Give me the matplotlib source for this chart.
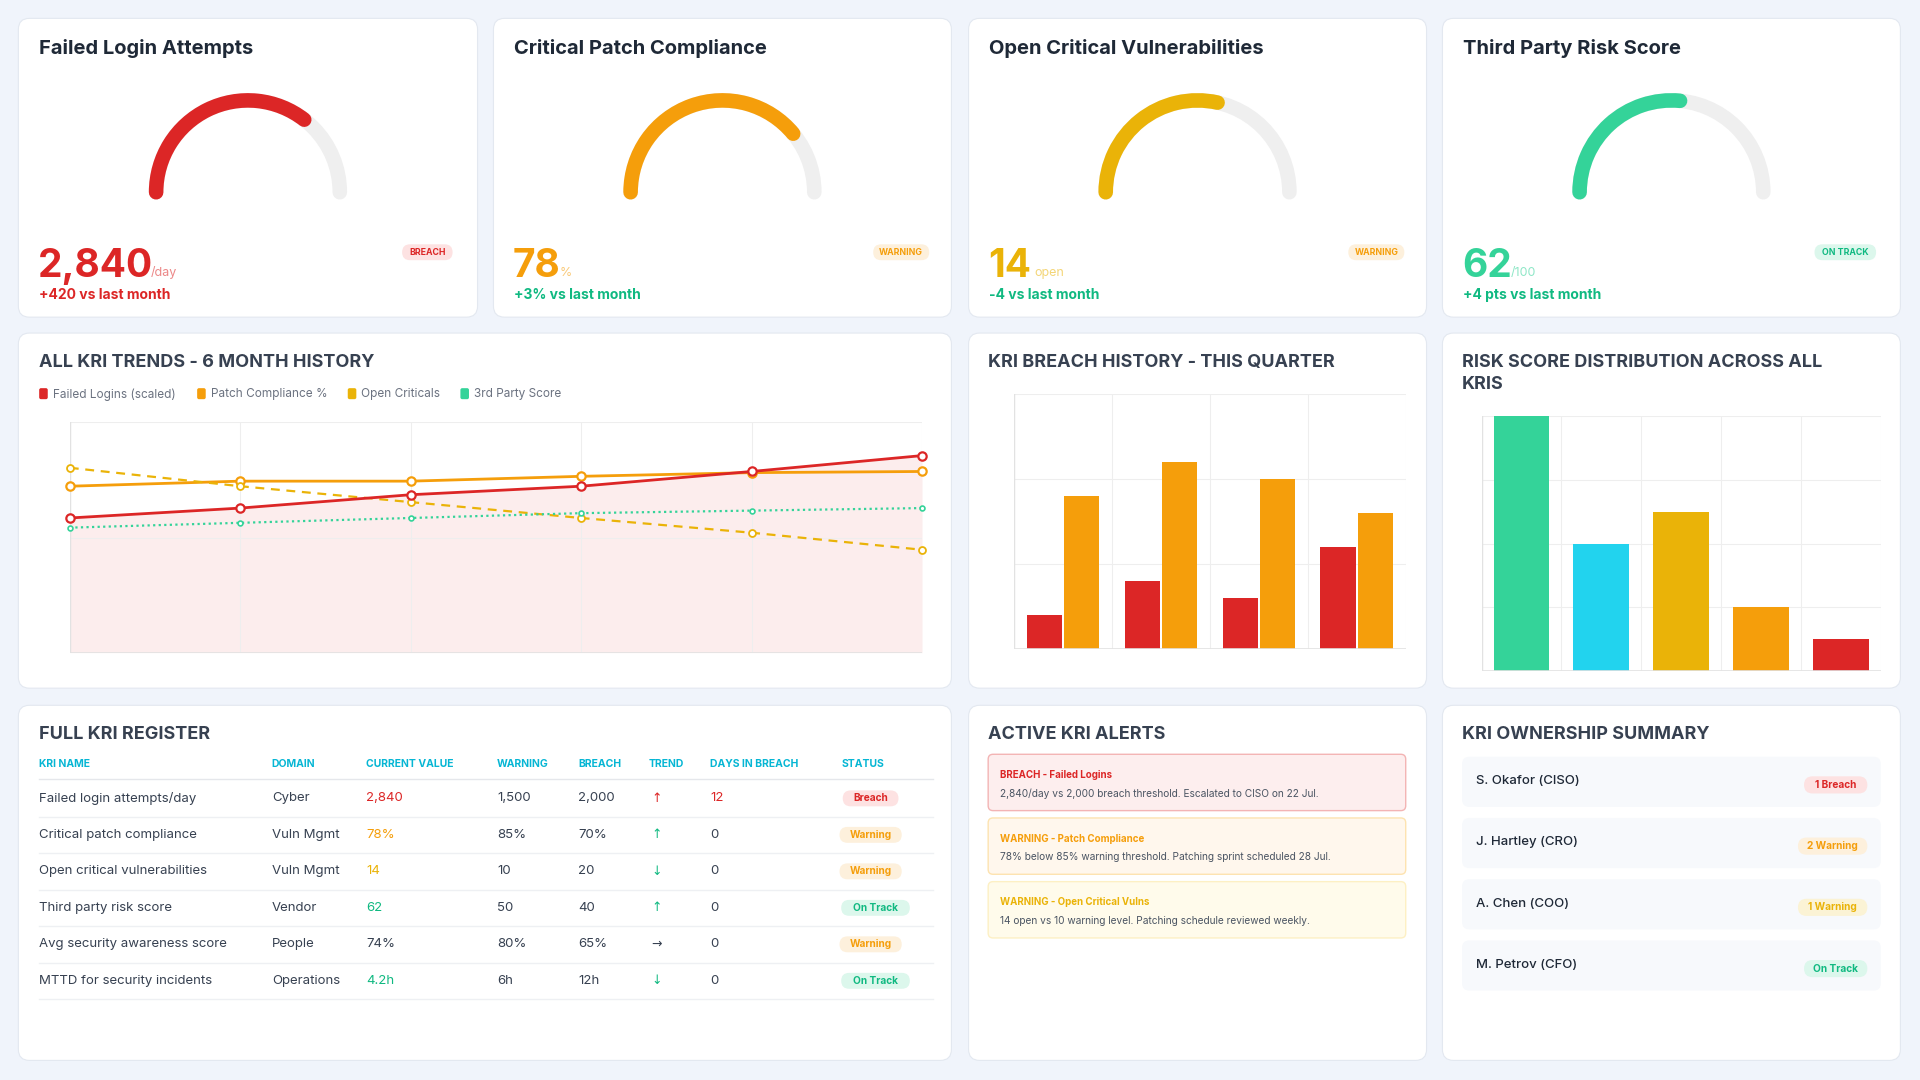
import matplotlib
matplotlib.use("Agg")
import matplotlib.pyplot as plt
from matplotlib.patches import FancyBboxPatch, Arc
import numpy as np

plt.rcParams['font.family'] = ['Inter', 'DejaVu Sans']

# ---------------- data ----------------
gauge_titles = ["Failed Login Attempts", "Critical Patch Compliance", "Open Critical Vulnerabilities", "Third Party Risk Score"]
gauge_fracs = [0.71, 0.78, 0.57, 0.53]
gauge_values = ["2,840", "78", "14", "62"]
gauge_suffix = ["/day", "%", "open", "/100"]
gauge_deltas = ["+420 vs last month", "+3% vs last month", "-4 vs last month", "+4 pts vs last month"]
gauge_status = ["BREACH", "WARNING", "WARNING", "ON TRACK"]

months = [0, 1, 2, 3, 4, 5]
failed_logins = [58.5, 62.8, 68.6, 72.3, 78.7, 85.6]
patch_comp = [72.3, 74.5, 74.5, 76.6, 78.2, 78.7]
open_crit = [80.3, 72.3, 65.4, 58.5, 52.1, 44.7]
third_party = [54.3, 56.4, 58.5, 60.6, 61.7, 62.8]
trend_legend = ["Failed Logins (scaled)", "Patch Compliance %", "Open Criticals", "3rd Party Score"]

breach_groups = [0, 1, 2, 3]
breach_red = [0.8, 1.6, 1.2, 2.4]
breach_orange = [3.6, 4.4, 4.0, 3.2]

risk_cats = [0, 1, 2, 3, 4]
risk_vals = [40, 20, 25, 10, 5]

tbl_headers = ["KRI NAME", "DOMAIN", "CURRENT VALUE", "WARNING", "BREACH", "TREND", "DAYS IN BREACH", "STATUS"]
tbl_names = ["Failed login attempts/day", "Critical patch compliance", "Open critical vulnerabilities",
             "Third party risk score", "Avg security awareness score", "MTTD for security incidents"]
tbl_domain = ["Cyber", "Vuln Mgmt", "Vuln Mgmt", "Vendor", "People", "Operations"]
tbl_current = ["2,840", "78%", "14", "62", "74%", "4.2h"]
tbl_warning = ["1,500", "85%", "10", "50", "80%", "6h"]
tbl_breach = ["2,000", "70%", "20", "40", "65%", "12h"]
tbl_trend = ["↑", "↑", "↓", "↑", "→", "↓"]
tbl_days = ["12", "0", "0", "0", "0", "0"]
tbl_status = ["Breach", "Warning", "Warning", "On Track", "Warning", "On Track"]

alert_titles = ["BREACH - Failed Logins", "WARNING - Patch Compliance", "WARNING - Open Critical Vulns"]
alert_texts = ["2,840/day vs 2,000 breach threshold. Escalated to CISO on 22 Jul.",
               "78% below 85% warning threshold. Patching sprint scheduled 28 Jul.",
               "14 open vs 10 warning level. Patching schedule reviewed weekly."]

owners = ["S. Okafor (CISO)", "J. Hartley (CRO)", "A. Chen (COO)", "M. Petrov (CFO)"]
owner_badges = ["1 Breach", "2 Warning", "1 Warning", "On Track"]

# ---------------- styles ----------------
RED, ORANGE, YELLOW, GREEN, CYAN = "#dc2626", "#f59e0b", "#eab308", "#34d399", "#22d3ee"
GREEN_T = "#10b981"
DARK, GREY = "#1f2937", "#6b7280"
W, H = 1568, 882
gcol = [RED, ORANGE, YELLOW, GREEN]
status_style = {
    "BREACH": ("#fde2e2", RED), "Breach": ("#fde2e2", RED),
    "WARNING": ("#fdf0dc", ORANGE), "Warning": ("#fdf0dc", ORANGE),
    "ON TRACK": ("#dcf7ec", GREEN_T), "On Track": ("#dcf7ec", GREEN_T),
}

fig = plt.figure(figsize=(19.2, 10.8), dpi=100)
fig.patch.set_facecolor("#f0f4fb")
bg = fig.add_axes([0, 0, 1, 1])
bg.set_xlim(0, W); bg.set_ylim(H, 0); bg.axis("off")

def card(x0, y0, x1, y1):
    bg.add_patch(FancyBboxPatch((x0, y0), x1 - x0, y1 - y0, boxstyle="round,pad=0,rounding_size=9",
                                fc="white", ec="#e3e8f0", lw=0.8))

def pill(xc, yc, text, size, fc, tc, w=None, h=14, bold=True):
    if w is None:
        w = len(text) * size * 0.72 + 14
    bg.add_patch(FancyBboxPatch((xc - w / 2, yc - h / 2), w, h, boxstyle=f"round,pad=0,rounding_size={h/2}",
                                fc=fc, ec="none"))
    bg.text(xc, yc, text, ha="center", va="center", fontsize=size, color=tc,
            fontweight="bold" if bold else "normal")

def ax_at(x0, y0, x1, y1):
    return fig.add_axes([x0 / W, 1 - y1 / H, (x1 - x0) / W, (y1 - y0) / H])

# ---------------- row 1: gauges ----------------
cards1 = [(15, 390), (403, 777), (791, 1165), (1178, 1552)]
suffix_x = [123, 457, 845, 1234]
for i, (x0, x1) in enumerate(cards1):
    card(x0, 15, x1, 259)
    bg.text(x0 + 17, 40, gauge_titles[i], fontsize=14.5, fontweight="bold", color=DARK, va="center")
    cx, cy, r = (x0 + x1) / 2, 157, 75
    bg.add_patch(Arc((cx, cy), 2 * r, 2 * r, theta1=180, theta2=360, lw=10.5, color="#efefef", capstyle="round"))
    bg.add_patch(Arc((cx, cy), 2 * r, 2 * r, theta1=180, theta2=180 + 180 * gauge_fracs[i], lw=10.5,
                     color=gcol[i], capstyle="round"))
    bg.text(x0 + 16, 226, gauge_values[i], fontsize=28, fontweight="bold", color=gcol[i], va="baseline")
    bg.text(suffix_x[i], 225, gauge_suffix[i], fontsize=9, color=gcol[i], alpha=0.55, va="baseline")
    bg.text(x0 + 17, 241, gauge_deltas[i], fontsize=10, fontweight="bold", va="center",
            color=RED if i == 0 else GREEN_T)
    fc, tc = status_style[gauge_status[i]]
    pill(x1 - 41 if i != 3 else x1 - 45, 206, gauge_status[i], 6.3, fc, tc, h=13)

# ---------------- row 2 ----------------
card(15, 272, 777, 562); card(791, 272, 1165, 562); card(1178, 272, 1552, 562)
bg.text(32, 296, "ALL KRI TRENDS - 6 MONTH HISTORY", fontsize=13, fontweight="bold", color="#374151", va="center")
bg.text(807, 296, "KRI BREACH HISTORY - THIS QUARTER", fontsize=13, fontweight="bold", color="#374151", va="center")
bg.text(1194, 296, "RISK SCORE DISTRIBUTION ACROSS ALL", fontsize=13, fontweight="bold", color="#374151", va="center")
bg.text(1194, 314, "KRIS", fontsize=13, fontweight="bold", color="#374151", va="center")

lx = [32, 161, 284, 376]
for i, lab in enumerate(trend_legend):
    bg.add_patch(FancyBboxPatch((lx[i], 317), 7, 9, boxstyle="round,pad=0,rounding_size=1.5", fc=gcol[i], ec="none"))
    bg.text(lx[i] + 11, 322, lab, fontsize=8.5, color=GREY, va="center")

ax = ax_at(57, 345, 753, 533)
ax.set_xlim(0, 5); ax.set_ylim(0, 100)
ax.fill_between(months, failed_logins, 0, color=RED, alpha=0.08, lw=0)
ax.plot(months, failed_logins, color=RED, lw=2, marker="o", ms=6, mfc="white", mec=RED, mew=1.6, zorder=5, clip_on=False)
ax.plot(months, patch_comp, color=ORANGE, lw=2, marker="o", ms=6, mfc="white", mec=ORANGE, mew=1.6, zorder=4, clip_on=False)
ax.plot(months, open_crit, color=YELLOW, lw=1.6, ls=(0, (4, 3)), marker="o", ms=5, mfc="white", mec=YELLOW, mew=1.3, zorder=4, clip_on=False)
ax.plot(months, third_party, color=GREEN, lw=1.6, ls=(0, (1, 1.5)), marker="o", ms=3.5, mfc="white", mec=GREEN, mew=1.2, zorder=4, clip_on=False)
ax.set_yticks([0, 50, 100]); ax.set_xticks(months)
ax.grid(True, color="#eeeeee", lw=0.8)
ax.tick_params(length=0, labelbottom=False, labelleft=False)
for s in ax.spines.values(): s.set_visible(False)
ax.axhline(0, color="#e2e2e2", lw=1.2); ax.axvline(0, color="#e2e2e2", lw=1)
ax.patch.set_alpha(0)

ax2 = ax_at(828, 322, 1148, 530)
x = np.array(breach_groups)
ax2.bar(x - 0.19, breach_red, width=0.36, color=RED)
ax2.bar(x + 0.19, breach_orange, width=0.36, color=ORANGE)
ax2.set_xlim(-0.5, 3.5); ax2.set_ylim(0, 6)
ax2.set_yticks([0, 2, 4, 6]); ax2.set_xticks([-0.5, 0.5, 1.5, 2.5, 3.5])
ax2.grid(True, color="#eeeeee", lw=0.8); ax2.set_axisbelow(True)
ax2.tick_params(length=0, labelbottom=False, labelleft=False)
for s in ax2.spines.values(): s.set_visible(False)
ax2.axhline(0, color="#e2e2e2", lw=1.2); ax2.axvline(-0.5, color="#e2e2e2", lw=1)
ax2.patch.set_alpha(0)

ax3 = ax_at(1210, 340, 1536, 548)
ax3.bar(risk_cats, risk_vals, width=0.7, color=[GREEN, CYAN, YELLOW, ORANGE, RED])
ax3.set_xlim(-0.5, 4.5); ax3.set_ylim(0, 40)
ax3.set_yticks([0, 10, 20, 30, 40]); ax3.set_xticks([-0.5, 0.5, 1.5, 2.5, 3.5, 4.5])
ax3.grid(True, color="#eeeeee", lw=0.8); ax3.set_axisbelow(True)
ax3.tick_params(length=0, labelbottom=False, labelleft=False)
for s in ax3.spines.values(): s.set_visible(False)
ax3.axhline(0, color="#e2e2e2", lw=1.2); ax3.axvline(-0.5, color="#e2e2e2", lw=1)
ax3.patch.set_alpha(0)

# ---------------- row 3 ----------------
card(15, 576, 777, 866); card(791, 576, 1165, 866); card(1178, 576, 1552, 866)
bg.text(32, 600, "FULL KRI REGISTER", fontsize=13, fontweight="bold", color="#374151", va="center")
bg.text(807, 600, "ACTIVE KRI ALERTS", fontsize=13, fontweight="bold", color="#374151", va="center")
bg.text(1194, 600, "KRI OWNERSHIP SUMMARY", fontsize=13, fontweight="bold", color="#374151", va="center")

colx = [32, 222, 299, 406, 472, 530, 580, 687]
for j, h in enumerate(tbl_headers):
    bg.text(colx[j], 624, h, fontsize=7.5, fontweight="bold", color="#06b6d4", va="center")
bg.plot([32, 762], [636, 636], color="#e5e7eb", lw=1)
cur_col = [RED, ORANGE, YELLOW, GREEN_T, "#374151", GREEN_T]
trend_col = [RED, GREEN_T, GREEN_T, GREEN_T, "#374151", GREEN_T]
for i in range(len(tbl_names)):
    y = 652 + i * 29.8
    bg.text(colx[0], y, tbl_names[i], fontsize=9.5, color="#374151", va="center")
    bg.text(colx[1], y, tbl_domain[i], fontsize=9.5, color="#374151", va="center")
    bg.text(colx[2], y, tbl_current[i], fontsize=9.5, color=cur_col[i], va="center")
    bg.text(colx[3], y, tbl_warning[i], fontsize=9.5, color="#374151", va="center")
    bg.text(colx[4], y, tbl_breach[i], fontsize=9.5, color="#374151", va="center")
    bg.text(colx[5] + 2, y, tbl_trend[i], fontsize=9, color=trend_col[i], va="center", family="DejaVu Sans")
    bg.text(colx[6], y, tbl_days[i], fontsize=9.5, color=RED if tbl_days[i] != "0" else "#374151", va="center")
    fc, tc = status_style[tbl_status[i]]
    pill(711 if tbl_status[i] != "On Track" else 715, y, tbl_status[i], 7.3, fc, tc, h=13)
    bg.plot([32, 762], [y + 15, y + 15], color="#eef0f3", lw=1)

alert_fc = ["#fdeeee", "#fff7ed", "#fffbeb"]
alert_ec = ["#f3b4b4", "#fde3b0", "#fdf0c4"]
alert_tc = [RED, ORANGE, YELLOW]
for i in range(3):
    y0 = 616 + i * 52
    bg.add_patch(FancyBboxPatch((807, y0), 341, 46, boxstyle="round,pad=0,rounding_size=4",
                                fc=alert_fc[i], ec=alert_ec[i], lw=1))
    bg.text(817, y0 + 17, alert_titles[i], fontsize=7, fontweight="bold", color=alert_tc[i], va="center")
    bg.text(817, y0 + 32, alert_texts[i], fontsize=7.3, color="#4b5563", va="center")

badge_fc = ["#fde2e2", "#fdf0dc", "#fbf3d5", "#dcf7ec"]
badge_tc = [RED, ORANGE, YELLOW, GREEN_T]
for i in range(4):
    y0 = 618 + i * 50
    bg.add_patch(FancyBboxPatch((1194, y0), 342, 41, boxstyle="round,pad=0,rounding_size=6",
                                fc="#f7f9fc", ec="none"))
    bg.text(1205, y0 + 20, owners[i], fontsize=9.5, color=DARK, va="center", fontweight="medium")
    w = len(owner_badges[i]) * 7.3 * 0.68 + 12
    pill(1525 - w / 2, y0 + 23, owner_badges[i], 7.3, badge_fc[i], badge_tc[i], w=w, h=14)

fig.savefig("out.png", dpi=100, facecolor=fig.get_facecolor())
